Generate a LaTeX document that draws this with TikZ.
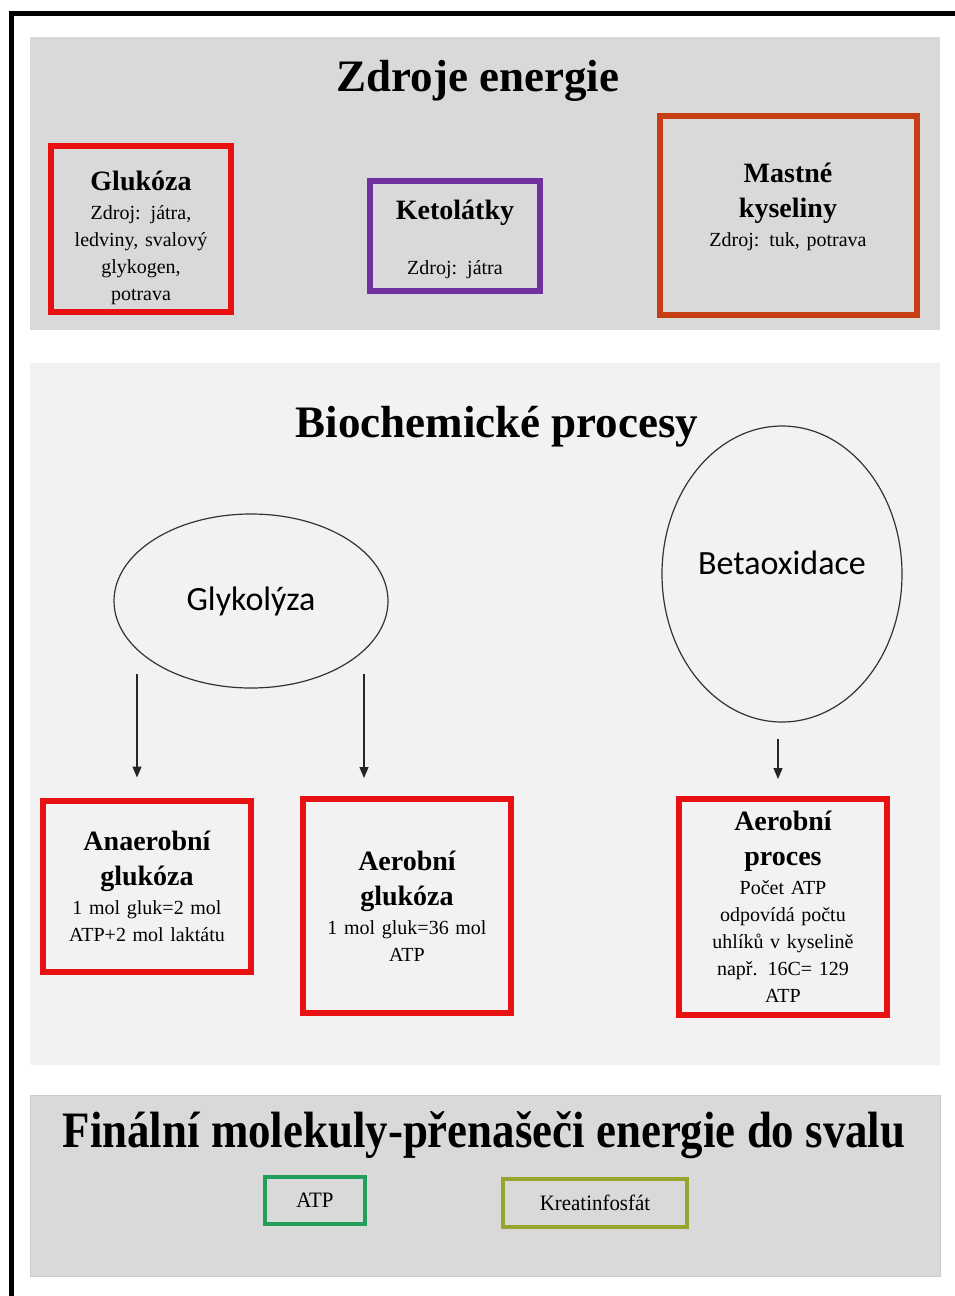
\documentclass[tikz,border=0pt]{standalone}
\usepackage{graphicx}
\usepackage{fontspec}
\setmainfont{Liberation Serif}
\newfontfamily\calibfont{Carlito}
\usetikzlibrary{shapes, arrows.meta, positioning}

\definecolor{boxred}{RGB}{232,16,16}
\definecolor{ketopurple}{RGB}{112,48,160}
\definecolor{fatorange}{RGB}{200,62,20}
\definecolor{atpgreen}{RGB}{32,160,90}
\definecolor{kpolive}{RGB}{152,164,44}
\definecolor{panelgray}{RGB}{217,217,217}
\definecolor{panellight}{RGB}{242,242,242}

\newcommand{\hd}[1]{{\fontsize{28}{35}\selectfont\bfseries #1}}

\begin{document}
\begin{tikzpicture}[
    x=1pt, y=-1pt,
    every node/.style={font=\fontsize{20}{27}\selectfont},
    panel/.style={rectangle, inner sep=0pt, anchor=north west},
    title/.style={font=\fontsize{45}{50}\selectfont\bfseries},
    srcbox/.style={rectangle, draw, line width=6pt, align=center, inner sep=0pt, text width=170pt},
    procbox/.style={srcbox, draw=boxred, minimum width=208pt},
    carrier/.style={rectangle, draw, line width=4pt, inner sep=0pt, minimum height=47pt},
    pathway/.style={ellipse, draw=black!80, line width=1.2pt, inner sep=0pt, font=\calibfont\fontsize{34}{38}\selectfont},
    arrow/.style={-{Triangle[length=11pt,width=9pt]}, line width=1.3pt, draw=black!85}
]
\useasboundingbox (0,0) rectangle (955,1296);

% Panels
\node[panel, fill=panelgray, minimum width=910pt, minimum height=293pt] (srcpanel) at (30,37) {};
\node[panel, fill=panellight, minimum width=910pt, minimum height=702pt] (procpanel) at (30,363) {};
\node[panel, fill=panelgray, draw=black!20, line width=1pt, minimum width=910pt, minimum height=181pt] (endpanel) at (30,1095) {};

% Frame
\draw[line width=5pt] (11,1296) -- (11,13) -- (955,13);

% Sources
\node[title] (srctitle) at (478,81) {Zdroje energie};
\node[srcbox, draw=boxred, minimum width=180pt, minimum height=166pt] (gluk) at (141,229)
    {\rule{0pt}{37pt}\hd{Glukóza}\\[2pt]Zdroj: játra,\\ledviny, svalový\\glykogen,\\potrava};
\node[srcbox, draw=ketopurple, minimum width=170pt, minimum height=110pt] (keto) at (455,236)
    {\rule{0pt}{27pt}\hd{Ketolátky}\\[28pt]Zdroj: játra};
\node[srcbox, draw=fatorange, minimum width=257pt, minimum height=199pt] (fat) at (788,215)
    {\hd{Mastné}\\[8pt]\hd{kyseliny}\\[2pt]Zdroj: tuk, potrava\rule[-21pt]{0pt}{1pt}};

% Processes
\node[title] (proctitle) at (497,427) {Biochemické procesy};
\node[pathway, minimum width=274pt, minimum height=174pt] (glyk) at (251,601) {Glykolýza};
\node[pathway, minimum width=240pt, minimum height=296pt] (beta) at (782,574) {Betaoxidace\rule[-22pt]{0pt}{1pt}};

\node[procbox, minimum height=171pt] (anaer) at (147,886)
    {\hd{Anaerobní}\\[8pt]\hd{glukóza}\\[2pt]1 mol gluk=2 mol\\ATP+2 mol laktátu};
\node[procbox, minimum height=214pt] (aerg) at (407,906)
    {\hd{Aerobní}\\[8pt]\hd{glukóza}\\[2pt]1 mol gluk=36 mol\\ATP};
\node[procbox, minimum height=216pt] (aerp) at (783,907)
    {\hd{Aerobní}\\[8pt]\hd{proces}\\[2pt]Počet ATP\\odpovídá počtu\\uhlíků v kyselině\\např. 16C= 129\\ATP};

% Arrows
\coordinate (glykL) at (137,0);
\coordinate (glykR) at (364,0);
\coordinate (betaX) at (778,0);
\draw[arrow, shorten <=-15pt, shorten >=20pt] (glyk.south -| glykL) -- (anaer.north -| glykL);
\draw[arrow, shorten <=-15pt, shorten >=18pt] (glyk.south -| glykR) -- (aerg.north -| glykR);
\draw[arrow, shorten <=16pt, shorten >=17pt] (beta.south -| betaX) -- (aerp.north -| betaX);

% Carriers
\node[font=\fontsize{51}{56}\selectfont\bfseries] (endtitle) at (484,1135)
    {\scalebox{0.88}[1]{Finální molekuly-přenašeči energie do svalu}};
\node[carrier, draw=atpgreen, minimum width=100pt] (atp) at (315,1200)
    {\fontsize{22}{26}\selectfont\scalebox{0.95}[1]{ATP}};
\node[carrier, draw=kpolive, minimum width=184pt, minimum height=48pt] (kreat) at (595,1203)
    {\fontsize{22}{26}\selectfont\scalebox{0.95}[1]{Kreatinfosfát}};

\end{tikzpicture}
\end{document}
